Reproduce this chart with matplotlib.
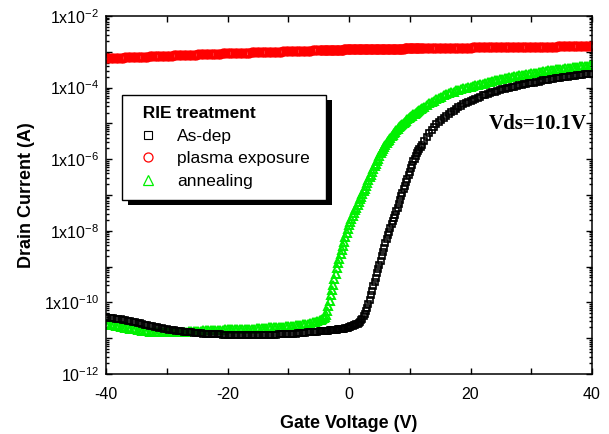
import numpy as np
import matplotlib
matplotlib.use("Agg")
import matplotlib.pyplot as plt
from matplotlib.lines import Line2D
from matplotlib.patches import Rectangle
from matplotlib.transforms import IdentityTransform
from matplotlib.ticker import FixedLocator, LogLocator, NullFormatter, FixedFormatter

# ---------------- data ----------------
# Gate voltage sweep grid (V): 0.4 V steps, 0.2 V steps in the switching region
gate_voltage = np.concatenate([np.arange(-400, -51, 4),
                               np.arange(-48, 119, 2),
                               np.arange(120, 401, 4)]) / 10.0

# log10 of drain current (A)
log_id_asdep = [
    -10.42, -10.43, -10.44, -10.44, -10.45, -10.46, -10.47, -10.48, -10.50, -10.51,
    -10.52, -10.54, -10.55, -10.57, -10.58, -10.60, -10.62, -10.63, -10.65, -10.66,
    -10.68, -10.69, -10.71, -10.72, -10.74, -10.75, -10.76, -10.77, -10.78, -10.79,
    -10.80, -10.81, -10.82, -10.82, -10.83, -10.84, -10.85, -10.85, -10.86, -10.86,
    -10.87, -10.87, -10.88, -10.88, -10.88, -10.89, -10.89, -10.89, -10.90, -10.90,
    -10.90, -10.90, -10.90, -10.91, -10.91, -10.91, -10.91, -10.91, -10.91, -10.91,
    -10.91, -10.91, -10.91, -10.91, -10.91, -10.91, -10.91, -10.90, -10.90, -10.90,
    -10.90, -10.89, -10.89, -10.89, -10.88, -10.88, -10.88, -10.87, -10.87, -10.86,
    -10.86, -10.85, -10.85, -10.84, -10.84, -10.83, -10.82, -10.82,
    # dense region (-4.8 .. 11.8, 0.2 V)
    -10.81, -10.81, -10.81, -10.80, -10.80, -10.80, -10.79, -10.79, -10.78, -10.78,
    -10.78, -10.77, -10.77, -10.76, -10.76, -10.75, -10.75, -10.74, -10.74, -10.73,
    -10.73, -10.72, -10.72, -10.71, -10.70, -10.69, -10.67, -10.66, -10.64, -10.63,
    -10.61, -10.59, -10.57, -10.54, -10.50, -10.45, -10.39, -10.32, -10.24, -10.15,
    -10.04, -9.92, -9.79, -9.67, -9.55, -9.43, -9.31, -9.19, -9.07, -8.95,
    -8.83, -8.71, -8.59, -8.47, -8.35, -8.23, -8.12, -8.02, -7.92, -7.82,
    -7.73, -7.64, -7.55, -7.45, -7.35, -7.24, -7.13, -7.03, -6.93, -6.83,
    -6.74, -6.64, -6.55, -6.45, -6.35, -6.25, -6.15, -6.06, -5.98, -5.91,
    -5.84, -5.78, -5.72, -5.66,
    # 12 .. 40 V
    -5.60, -5.49, -5.37, -5.27, -5.18, -5.10, -5.03, -4.96, -4.90, -4.84,
    -4.79, -4.74, -4.69, -4.64, -4.60, -4.55, -4.51, -4.47, -4.43, -4.40,
    -4.37, -4.34, -4.31, -4.28, -4.25, -4.22, -4.20, -4.17, -4.15, -4.13,
    -4.11, -4.09, -4.07, -4.05, -4.04, -4.02, -4.00, -3.99, -3.97, -3.96,
    -3.94, -3.93, -3.91, -3.90, -3.88, -3.87, -3.86, -3.84, -3.83, -3.81,
    -3.80, -3.79, -3.78, -3.76, -3.75, -3.74, -3.73, -3.72, -3.71, -3.70,
    -3.69, -3.68, -3.67, -3.67, -3.66, -3.65, -3.64, -3.63, -3.63, -3.62,
    -3.61,
]

log_id_plasma = [
    -3.180, -3.177, -3.174, -3.172, -3.169, -3.166, -3.163, -3.160, -3.158, -3.155,
    -3.152, -3.149, -3.146, -3.144, -3.141, -3.138, -3.135, -3.132, -3.130, -3.127,
    -3.124, -3.121, -3.118, -3.116, -3.113, -3.110, -3.107, -3.104, -3.102, -3.099,
    -3.096, -3.093, -3.090, -3.088, -3.085, -3.082, -3.079, -3.076, -3.074, -3.071,
    -3.068, -3.065, -3.062, -3.060, -3.057, -3.054, -3.051, -3.048, -3.046, -3.043,
    -3.040, -3.038, -3.036, -3.033, -3.031, -3.029, -3.027, -3.025, -3.022, -3.020,
    -3.018, -3.016, -3.014, -3.011, -3.009, -3.007, -3.005, -3.003, -3.000, -2.998,
    -2.996, -2.994, -2.992, -2.989, -2.987, -2.985, -2.983, -2.981, -2.978, -2.976,
    -2.974, -2.972, -2.970, -2.967, -2.965, -2.963, -2.961, -2.959,
    -2.956, -2.955, -2.954, -2.953, -2.952, -2.951, -2.950, -2.949, -2.948, -2.947,
    -2.945, -2.944, -2.943, -2.942, -2.941, -2.940, -2.939, -2.938, -2.937, -2.936,
    -2.934, -2.933, -2.932, -2.931, -2.930, -2.930, -2.929, -2.929, -2.928, -2.928,
    -2.927, -2.927, -2.926, -2.926, -2.925, -2.925, -2.924, -2.924, -2.923, -2.923,
    -2.922, -2.922, -2.921, -2.921, -2.920, -2.920, -2.919, -2.919, -2.918, -2.918,
    -2.917, -2.917, -2.916, -2.916, -2.915, -2.915, -2.914, -2.914, -2.913, -2.913,
    -2.912, -2.912, -2.911, -2.911, -2.910, -2.910, -2.909, -2.909, -2.908, -2.908,
    -2.907, -2.907, -2.906, -2.906, -2.905, -2.905, -2.904, -2.904, -2.903, -2.903,
    -2.902, -2.902, -2.901, -2.901,
    -2.900, -2.899, -2.898, -2.897, -2.896, -2.895, -2.894, -2.893, -2.892, -2.891,
    -2.890, -2.889, -2.888, -2.887, -2.886, -2.885, -2.884, -2.883, -2.882, -2.881,
    -2.880, -2.879, -2.878, -2.878, -2.877, -2.876, -2.875, -2.874, -2.874, -2.873,
    -2.872, -2.871, -2.870, -2.870, -2.869, -2.868, -2.867, -2.866, -2.866, -2.865,
    -2.864, -2.863, -2.862, -2.862, -2.861, -2.860, -2.859, -2.858, -2.858, -2.857,
    -2.856, -2.855, -2.854, -2.854, -2.853, -2.852, -2.851, -2.850, -2.850, -2.849,
    -2.848, -2.847, -2.846, -2.846, -2.845, -2.844, -2.843, -2.842, -2.842, -2.841,
    -2.840,
]

log_id_anneal = [
    -10.60, -10.61, -10.63, -10.64, -10.66, -10.67, -10.68, -10.69, -10.71, -10.72,
    -10.73, -10.74, -10.75, -10.77, -10.78, -10.79, -10.80, -10.81, -10.82, -10.82,
    -10.83, -10.83, -10.84, -10.84, -10.84, -10.84, -10.84, -10.84, -10.84, -10.83,
    -10.83, -10.83, -10.82, -10.82, -10.81, -10.81, -10.80, -10.80, -10.79, -10.79,
    -10.78, -10.78, -10.78, -10.77, -10.77, -10.77, -10.76, -10.76, -10.76, -10.75,
    -10.75, -10.75, -10.75, -10.74, -10.74, -10.74, -10.74, -10.74, -10.73, -10.73,
    -10.73, -10.73, -10.72, -10.72, -10.72, -10.71, -10.71, -10.70, -10.70, -10.70,
    -10.69, -10.69, -10.68, -10.68, -10.67, -10.66, -10.66, -10.65, -10.64, -10.63,
    -10.62, -10.61, -10.60, -10.59, -10.58, -10.56, -10.54, -10.52,
    -10.50, -10.48, -10.46, -10.43, -10.40, -10.34, -10.25, -10.11, -9.95, -9.80,
    -9.65, -9.50, -9.35, -9.20, -9.05, -8.91, -8.78, -8.66, -8.54, -8.42,
    -8.30, -8.18, -8.07, -7.96, -7.85, -7.76, -7.68, -7.59, -7.51, -7.43,
    -7.35, -7.27, -7.20, -7.12, -7.05, -6.97, -6.90, -6.82, -6.75, -6.67,
    -6.59, -6.51, -6.43, -6.35, -6.27, -6.19, -6.12, -6.05, -5.98, -5.91,
    -5.84, -5.78, -5.72, -5.66, -5.60, -5.55, -5.50, -5.45, -5.40, -5.35,
    -5.31, -5.27, -5.23, -5.19, -5.15, -5.11, -5.08, -5.04, -5.01, -4.98,
    -4.95, -4.92, -4.89, -4.86, -4.83, -4.80, -4.78, -4.75, -4.73, -4.70,
    -4.67, -4.65, -4.62, -4.60,
    -4.57, -4.53, -4.48, -4.44, -4.40, -4.36, -4.32, -4.29, -4.25, -4.22,
    -4.19, -4.16, -4.13, -4.11, -4.08, -4.06, -4.04, -4.02, -4.00, -3.99,
    -3.97, -3.95, -3.94, -3.92, -3.91, -3.89, -3.87, -3.85, -3.84, -3.82,
    -3.80, -3.78, -3.77, -3.75, -3.74, -3.72, -3.71, -3.70, -3.68, -3.67,
    -3.66, -3.65, -3.64, -3.62, -3.61, -3.60, -3.59, -3.58, -3.56, -3.55,
    -3.54, -3.53, -3.52, -3.51, -3.50, -3.49, -3.48, -3.47, -3.47, -3.46,
    -3.45, -3.44, -3.43, -3.43, -3.42, -3.41, -3.40, -3.39, -3.39, -3.38,
    -3.37,
]

series_labels = ["As-dep", "plasma exposure", "annealing"]
legend_title = "RIE treatment"
x_ticks = [-40, -20, 0, 20, 40]
y_ticklabels = [r"$\mathregular{10^{-12}}$", r"$\mathregular{1x10^{-10}}$",
                r"$\mathregular{1x10^{-8}}$", r"$\mathregular{1x10^{-6}}$",
                r"$\mathregular{1x10^{-4}}$", r"$\mathregular{1x10^{-2}}$"]
annotation = "Vds=10.1V"

assert len(gate_voltage) == len(log_id_asdep) == len(log_id_plasma) == len(log_id_anneal)

# ---------------- style ----------------
plt.rcParams["font.family"] = ["Liberation Sans", "DejaVu Sans"]
plt.rcParams["mathtext.fontset"] = "custom"
plt.rcParams["mathtext.rm"] = "Liberation Sans"
plt.rcParams["axes.unicode_minus"] = False

fig = plt.figure(figsize=(6.09, 4.34), dpi=100)
ax = fig.add_axes([0.1741, 0.1382, 0.798, 0.8249])

green = "#00f000"
red = "#ff0000"

ax.plot(gate_voltage, 10 ** np.array(log_id_plasma), linestyle="none", marker="o",
        ms=5.5, mfc="none", mec=red, mew=1.8, zorder=2)
ax.plot(gate_voltage, 10 ** np.array(log_id_anneal), linestyle="none", marker="^",
        ms=6.0, mfc="none", mec=green, mew=1.4, zorder=2)
ax.plot(gate_voltage, 10 ** np.array(log_id_asdep), linestyle="none", marker="s",
        ms=5.0, mfc="none", mec="black", mew=1.2, zorder=3)

ax.set_yscale("log")
ax.set_xlim(-40, 40)
ax.set_ylim(1e-12, 1e-2)

ax.xaxis.set_major_locator(FixedLocator(x_ticks))
ax.xaxis.set_minor_locator(FixedLocator([-30, -10, 10, 30]))
ax.yaxis.set_major_locator(FixedLocator([10.0 ** k for k in range(-12, -1)]))
ax.yaxis.set_major_formatter(FixedFormatter(
    [y_ticklabels[(k + 12) // 2] if k % 2 == 0 else "" for k in range(-12, -1)]))
ax.yaxis.set_minor_locator(LogLocator(base=10, subs=np.arange(2, 10), numticks=100))
ax.yaxis.set_minor_formatter(NullFormatter())

ax.tick_params(which="both", direction="in", top=True, right=True, width=1.0)
ax.tick_params(axis="x", which="both", length=4.5, labelsize=11.5, pad=9)
ax.tick_params(axis="y", which="major", length=4.5, labelsize=11.5, pad=5)
ax.tick_params(axis="y", which="minor", length=2.5)

for s in ax.spines.values():
    s.set_linewidth(1.1)

ax.set_xlabel("Gate Voltage (V)", fontsize=13, fontweight="bold", labelpad=10)
ax.set_ylabel("Drain Current (A)", fontsize=13, fontweight="bold", labelpad=6)

ax.text(0.99, 0.697, annotation, transform=ax.transAxes, ha="right", va="center",
        fontsize=15, fontweight="bold", family=["Liberation Serif", "DejaVu Serif"])

handles = [
    Line2D([], [], linestyle="none", marker="s", ms=5.5, mfc="none", mec="black", mew=0.8),
    Line2D([], [], linestyle="none", marker="o", ms=6.5, mfc="none", mec=red, mew=0.9),
    Line2D([], [], linestyle="none", marker="^", ms=7, mfc="none", mec=green, mew=0.9),
]
leg = ax.legend(handles, series_labels, title="  " + legend_title,
                title_fontproperties={"weight": "bold", "size": 12.5},
                loc="upper left", bbox_to_anchor=(0.033, 0.779), borderaxespad=0,
                fontsize=12.5, frameon=True, fancybox=False, edgecolor="black",
                framealpha=1, handlelength=1.7, handletextpad=0.8, labelspacing=0.42,
                borderpad=0.65, alignment="left")
leg.get_frame().set_linewidth(1.0)
leg.set_zorder(6)
for t in leg.get_texts():
    if t.get_text() == "plasma exposure":
        t.set_text("plasma exposure ")

# solid black drop shadow behind the legend box
fig.canvas.draw()
bb = leg.get_frame().get_window_extent()
shadow = Rectangle((bb.x0 + 6, bb.y0 - 5), bb.width, bb.height, transform=IdentityTransform(),
                   facecolor="black", edgecolor="none", zorder=5.5, clip_on=False)
ax.add_artist(shadow)

fig.savefig("out.png", dpi=100)
